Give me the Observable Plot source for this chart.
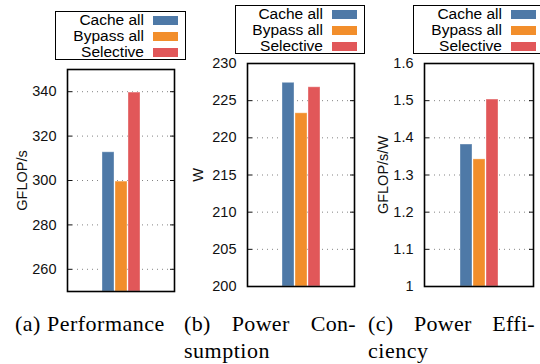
<!DOCTYPE html>
<html>
<head>
<meta charset="utf-8">
<script src="https://cdn.jsdelivr.net/npm/d3@7"></script>
<script src="https://cdn.jsdelivr.net/npm/@observablehq/plot@0.6"></script>
<style>
  body { margin: 0; background: white; }
  #root { position: relative; width: 540px; height: 364px; overflow: hidden; background: white; }
  .panel { position: absolute; top: 0; }
  .legend { position: absolute; border: 1px solid #000; background: white; font-family: "Liberation Sans", Arial, sans-serif; font-size: 15.5px; box-sizing: border-box; z-index: 5; padding-top: 0px; }
  .row { display: flex; justify-content: flex-end; align-items: center; height: 16px; line-height: 16px; }
  .row span.sw { display: inline-block; width: 25px; height: 9px; margin-left: 9px; margin-right: 7px; }
  .cap { position: absolute; font-family: 'Liberation Serif', Tinos, 'Times New Roman', 'DejaVu Serif', serif; font-size: 22px; line-height: 26.7px; letter-spacing: 0.5px; white-space: nowrap; color: #000; }
  .just { text-align: justify; text-align-last: justify; white-space: normal; letter-spacing: 0.3px; }
</style>
</head>
<body>
<div id="root"></div>
<script>
const series = ["Cache all", "Bypass all", "Selective"];
const colors = ["#4e79a7", "#f28e2b", "#e15759"];
const performance = [312.7, 299.5, 339.6];
const power = [227.4, 223.3, 226.8];
const efficiency = [1.382, 1.342, 1.503];

const perfTicks = [260, 280, 300, 320, 340];
const powerTicks = [200, 205, 210, 215, 220, 225, 230];
const effTicks = [1, 1.1, 1.2, 1.3, 1.4, 1.5, 1.6];

const root = document.getElementById("root");

function panel({values, domain, ticks, gridTicks, label, left, mTop, mBottom, mLeft, mRight, labelOffset, fmt}) {
  const data = series.map((s, i) => ({s, v: values[i]}));
  const svg = Plot.plot({
    width: 180, height: 300,
    marginTop: mTop, marginBottom: mBottom, marginLeft: mLeft, marginRight: mRight,
    style: {fontFamily: "'Liberation Sans', Arial, sans-serif", fontSize: "14.5px", background: "transparent", overflow: "visible"},
    x: {domain: series, paddingInner: 0.08, paddingOuter: 2.56, axis: null},
    y: {domain, axis: null},
    color: {domain: series, range: colors},
    marks: [
      Plot.gridY(gridTicks, {stroke: "#777", strokeOpacity: 0.9, strokeDasharray: "1,4"}),
      Plot.barY(data, {x: "s", y1: domain[0], y2: "v", fill: "s", stroke: "white", strokeOpacity: 0.35, strokeWidth: 1}),
      Plot.axisY(ticks, {anchor: "left", tickSize: 0, tickPadding: 11, tickFormat: fmt, fill: "#111",
        label, labelAnchor: "center", labelArrow: "none", labelOffset}),
      Plot.axisY(gridTicks, {anchor: "left", tickSize: -5, tickFormat: () => "", label: null, stroke: "#111"}),
      Plot.axisY(gridTicks, {anchor: "right", tickSize: -5, tickFormat: () => "", label: null, stroke: "#111"}),
      Plot.frame({stroke: "#000", strokeWidth: 1.6})
    ]
  });
  svg.classList.add("panel");
  svg.style.left = left + "px";
  root.appendChild(svg);
}

panel({values: performance, domain: [250, 350], ticks: perfTicks, gridTicks: perfTicks, label: "GFLOP/s",
  left: 0, mTop: 69, mBottom: 9, mLeft: 67, mRight: 6, labelOffset: 51, fmt: d3.format("d")});
panel({values: power, domain: [200, 230], ticks: powerTicks, gridTicks: powerTicks.slice(1, -1), label: "W",
  left: 180, mTop: 63, mBottom: 14, mLeft: 67, mRight: 6, labelOffset: 55, fmt: d3.format("d")});
panel({values: efficiency, domain: [1, 1.6], ticks: effTicks, gridTicks: effTicks.slice(1, -1), label: "GFLOP/s/W",
  left: 360, mTop: 63, mBottom: 14, mLeft: 64, mRight: 7, labelOffset: 47, fmt: d => d === 1 ? "1" : d3.format(".1f")(d)});

function legend(left, top, width) {
  const box = document.createElement("div");
  box.className = "legend";
  box.style.left = left + "px";
  box.style.top = top + "px";
  box.style.width = width + "px";
  box.style.height = "49px";
  series.forEach((s, i) => {
    const row = document.createElement("div");
    row.className = "row";
    const t = document.createElement("span");
    t.textContent = s;
    const sw = document.createElement("span");
    sw.className = "sw";
    sw.style.background = colors[i];
    row.appendChild(t); row.appendChild(sw);
    box.appendChild(row);
  });
  root.appendChild(box);
}
legend(55, 11, 131);
legend(235, 5, 130);
legend(413, 5, 131);

const captions = [
  {left: 15, width: 150, lines: ["(a) Performance"]},
  {left: 184, width: 172, lines: ["(b) Power Con-", "sumption"]},
  {left: 368, width: 167, lines: ["(c) Power Effi-", "ciency"]}
];
captions.forEach(c => {
  c.lines.forEach((ln, j) => {
    const d = document.createElement("div");
    d.className = "cap" + (j === 0 && c.lines.length > 1 ? " just" : "");
    d.style.left = c.left + "px";
    d.style.top = (311 + j * 26.7) + "px";
    if (j === 0 && c.lines.length > 1) d.style.width = c.width + "px";
    d.textContent = ln;
    root.appendChild(d);
  });
});
</script>
</body>
</html>
